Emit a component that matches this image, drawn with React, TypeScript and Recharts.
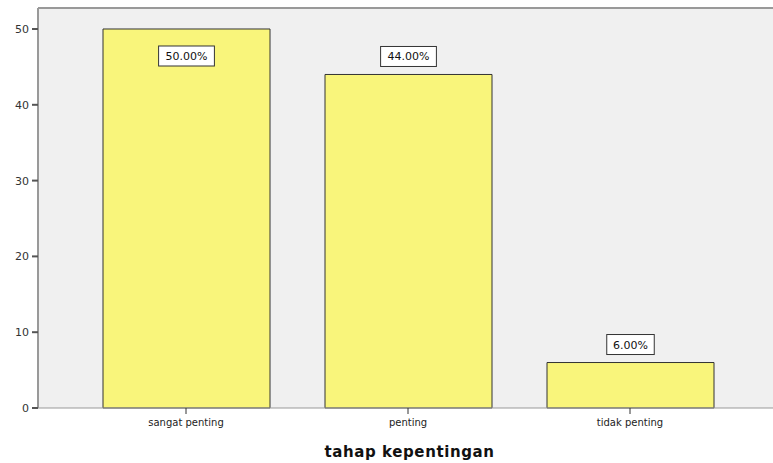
import React from "react";
import {
  BarChart,
  Bar,
  XAxis,
  YAxis,
  CartesianGrid,
  LabelList,
  ReferenceLine,
} from "recharts";

const categories = ["sangat penting", "penting", "tidak penting"];
const counts = [50, 44, 6];
const percents = ["50.00%", "44.00%", "6.00%"];
const yTicks = [0, 10, 20, 30, 40, 50];
const yMax = 52.77;

const data = categories.map((name, i) => ({ name, count: counts[i] }));

const PLOT_TOP = 8;
const FONT = "DejaVu Sans, Verdana, sans-serif";

function PctLabel(props: any) {
  const { x, y, width, index } = props;
  const text = percents[index];
  const w = text.length * 8.3 + 6;
  const h = 20;
  const cx = x + width / 2;
  let top = y - 8 - h;
  if (top < PLOT_TOP + 4) top = y + 17;
  return (
    <g>
      <rect x={cx - w / 2} y={top} width={w} height={h} fill="#fff" stroke="#333" strokeWidth={1} />
      <text x={cx} y={top + h / 2 + 4} textAnchor="middle" fontSize={11} fontFamily={FONT} fill="#111">
        {text}
      </text>
    </g>
  );
}

function AxisTitle(props: any) {
  const { viewBox } = props;
  const cx = viewBox.x + viewBox.width / 2 + 4;
  return (
    <text x={cx} y={457} textAnchor="middle" fontSize={15} fontWeight="bold" fontFamily={FONT} fill="#111" letterSpacing={0.6}>
      tahap kepentingan
    </text>
  );
}

export default function App() {
  return (
    <div style={{ position: "absolute", left: 0, top: 0, background: "#fff" }}>
      <BarChart
        width={773}
        height={463}
        data={data}
        margin={{ top: PLOT_TOP, right: 0, left: 0, bottom: 0 }}
        barCategoryGap={0}
      >
        <CartesianGrid fill="#F0F0F0" horizontal={false} vertical={false} />
        <XAxis
          dataKey="name"
          height={55}
          padding={{ left: 37, right: 32 }}
          stroke="#999"
          tickSize={6}
          tickMargin={5}
          tickLine={{ stroke: "#333" }}
          tick={{ fontSize: 10, fill: "#222", fontFamily: FONT }}
          label={<AxisTitle />}
        />
        <YAxis
          domain={[0, yMax]}
          ticks={yTicks}
          width={38}
          stroke="#999"
          strokeWidth={2}
          tickSize={6}
          tickMargin={3}
          tickLine={{ stroke: "#555" }}
          tick={{ fontSize: 11, fill: "#333", fontFamily: FONT }}
        />
        <ReferenceLine y={yMax} stroke="#999" strokeWidth={2} />
        <Bar
          dataKey="count"
          barSize={167}
          fill="#F9F57B"
          stroke="#333"
          strokeWidth={1}
          isAnimationActive={false}
        >
          <LabelList dataKey="count" content={<PctLabel />} />
        </Bar>
      </BarChart>
    </div>
  );
}
